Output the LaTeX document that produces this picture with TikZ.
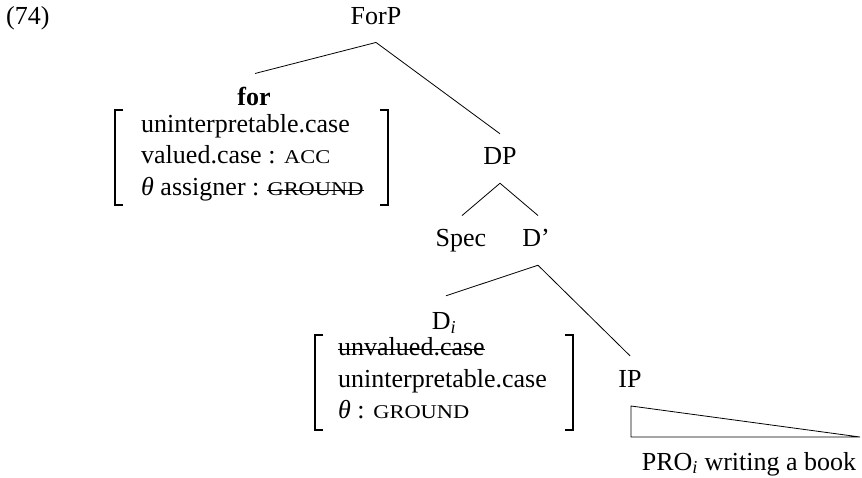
\documentclass[tikz,border=0pt]{standalone}
\usepackage{fontspec}
\setmainfont{Liberation Serif}
\usepackage{graphicx}
\tikzset{
  lab/.style={inner sep=0pt, anchor=base, font=\fontsize{26}{31}\selectfont},
  avmline/.style={lab, anchor=base west},
  branch/.style={line width=0.8pt},
  brk/.style={line width=1.4pt},
  strike/.style={line width=1.3pt},
}
\newcommand{\fsc}[1]{\scalebox{1.15}[1]{\fontsize{19.5}{19.5}\selectfont #1}}
\begin{document}
\begin{tikzpicture}[x=1pt,y=-1pt]
\useasboundingbox (0,0) rectangle (862,478);
% labels
\node[lab,anchor=base west] (ex) at (6,25) {(74)};
\node[lab] (forp) at (376,25) {ForP};
\node[lab] (for) at (254,106) {\textbf{for}};
\node[avmline] (a11) at (141,133) {uninterpretable.case};
\node[avmline] (a12) at (141,164) {valued.case : \fsc{ACC}};
\node[avmline] (a13) at (141,196) {\textit{θ} assigner :\hspace{0.3em}\null};
\node[avmline] (a13g) at (a13.base east) {\fsc{GROUND}};
\node[lab] (dp) at (500,165) {DP};
\node[lab] (spec) at (461,247) {Spec};
\node[lab] (dprime) at (536,247) {D’};
\node[lab] (di) at (444,330) {D\textsubscript{\textit{i}}};
\node[avmline] (a21) at (338,355) {unvalued.case};
\node[avmline] (a22) at (338,387) {uninterpretable.case};
\node[avmline] (a23) at (338,418) {\textit{θ} : \fsc{GROUND}};
\node[lab] (ip) at (630,387) {IP};
\node[lab] (pro) at (749,470) {PRO\textsubscript{\textit{i}} writing a book};
% strikes
\draw[strike] ([yshift=5.5pt]a13g.base west) -- ([yshift=5.5pt]a13g.base east);
\draw[strike] ([yshift=5.5pt]a21.base west) -- ([yshift=5.5pt]a21.base east);
% brackets
\draw[brk] (123,110) -- (115,110) -- (115,205) -- (123,205);
\draw[brk] (380,110) -- (388,110) -- (388,205) -- (380,205);
\draw[brk] (323,335) -- (315,335) -- (315,430) -- (323,430);
\draw[brk] (565,335) -- (573,335) -- (573,430) -- (565,430);
% branches
\draw[branch] ([yshift=-17pt]forp.south) -- ([xshift=1pt,yshift=14pt]for.north);
\draw[branch] ([yshift=-17pt]forp.south) -- ([yshift=14pt]dp.north);
\draw[branch] ([yshift=-18pt]dp.south) -- ([xshift=1pt,yshift=14pt]spec.north);
\draw[branch] ([yshift=-18pt]dp.south) -- ([xshift=2pt,yshift=14pt]dprime.north);
\draw[branch] ([xshift=2pt,yshift=-18pt]dprime.south) -- ([xshift=2pt,yshift=17pt]di.north);
\draw[branch] ([xshift=2pt,yshift=-18pt]dprime.south) -- ([yshift=14pt]ip.north);
% triangle
\draw[branch] (631,406) -- (631,437) -- (860,437) -- cycle;
\end{tikzpicture}
\end{document}
